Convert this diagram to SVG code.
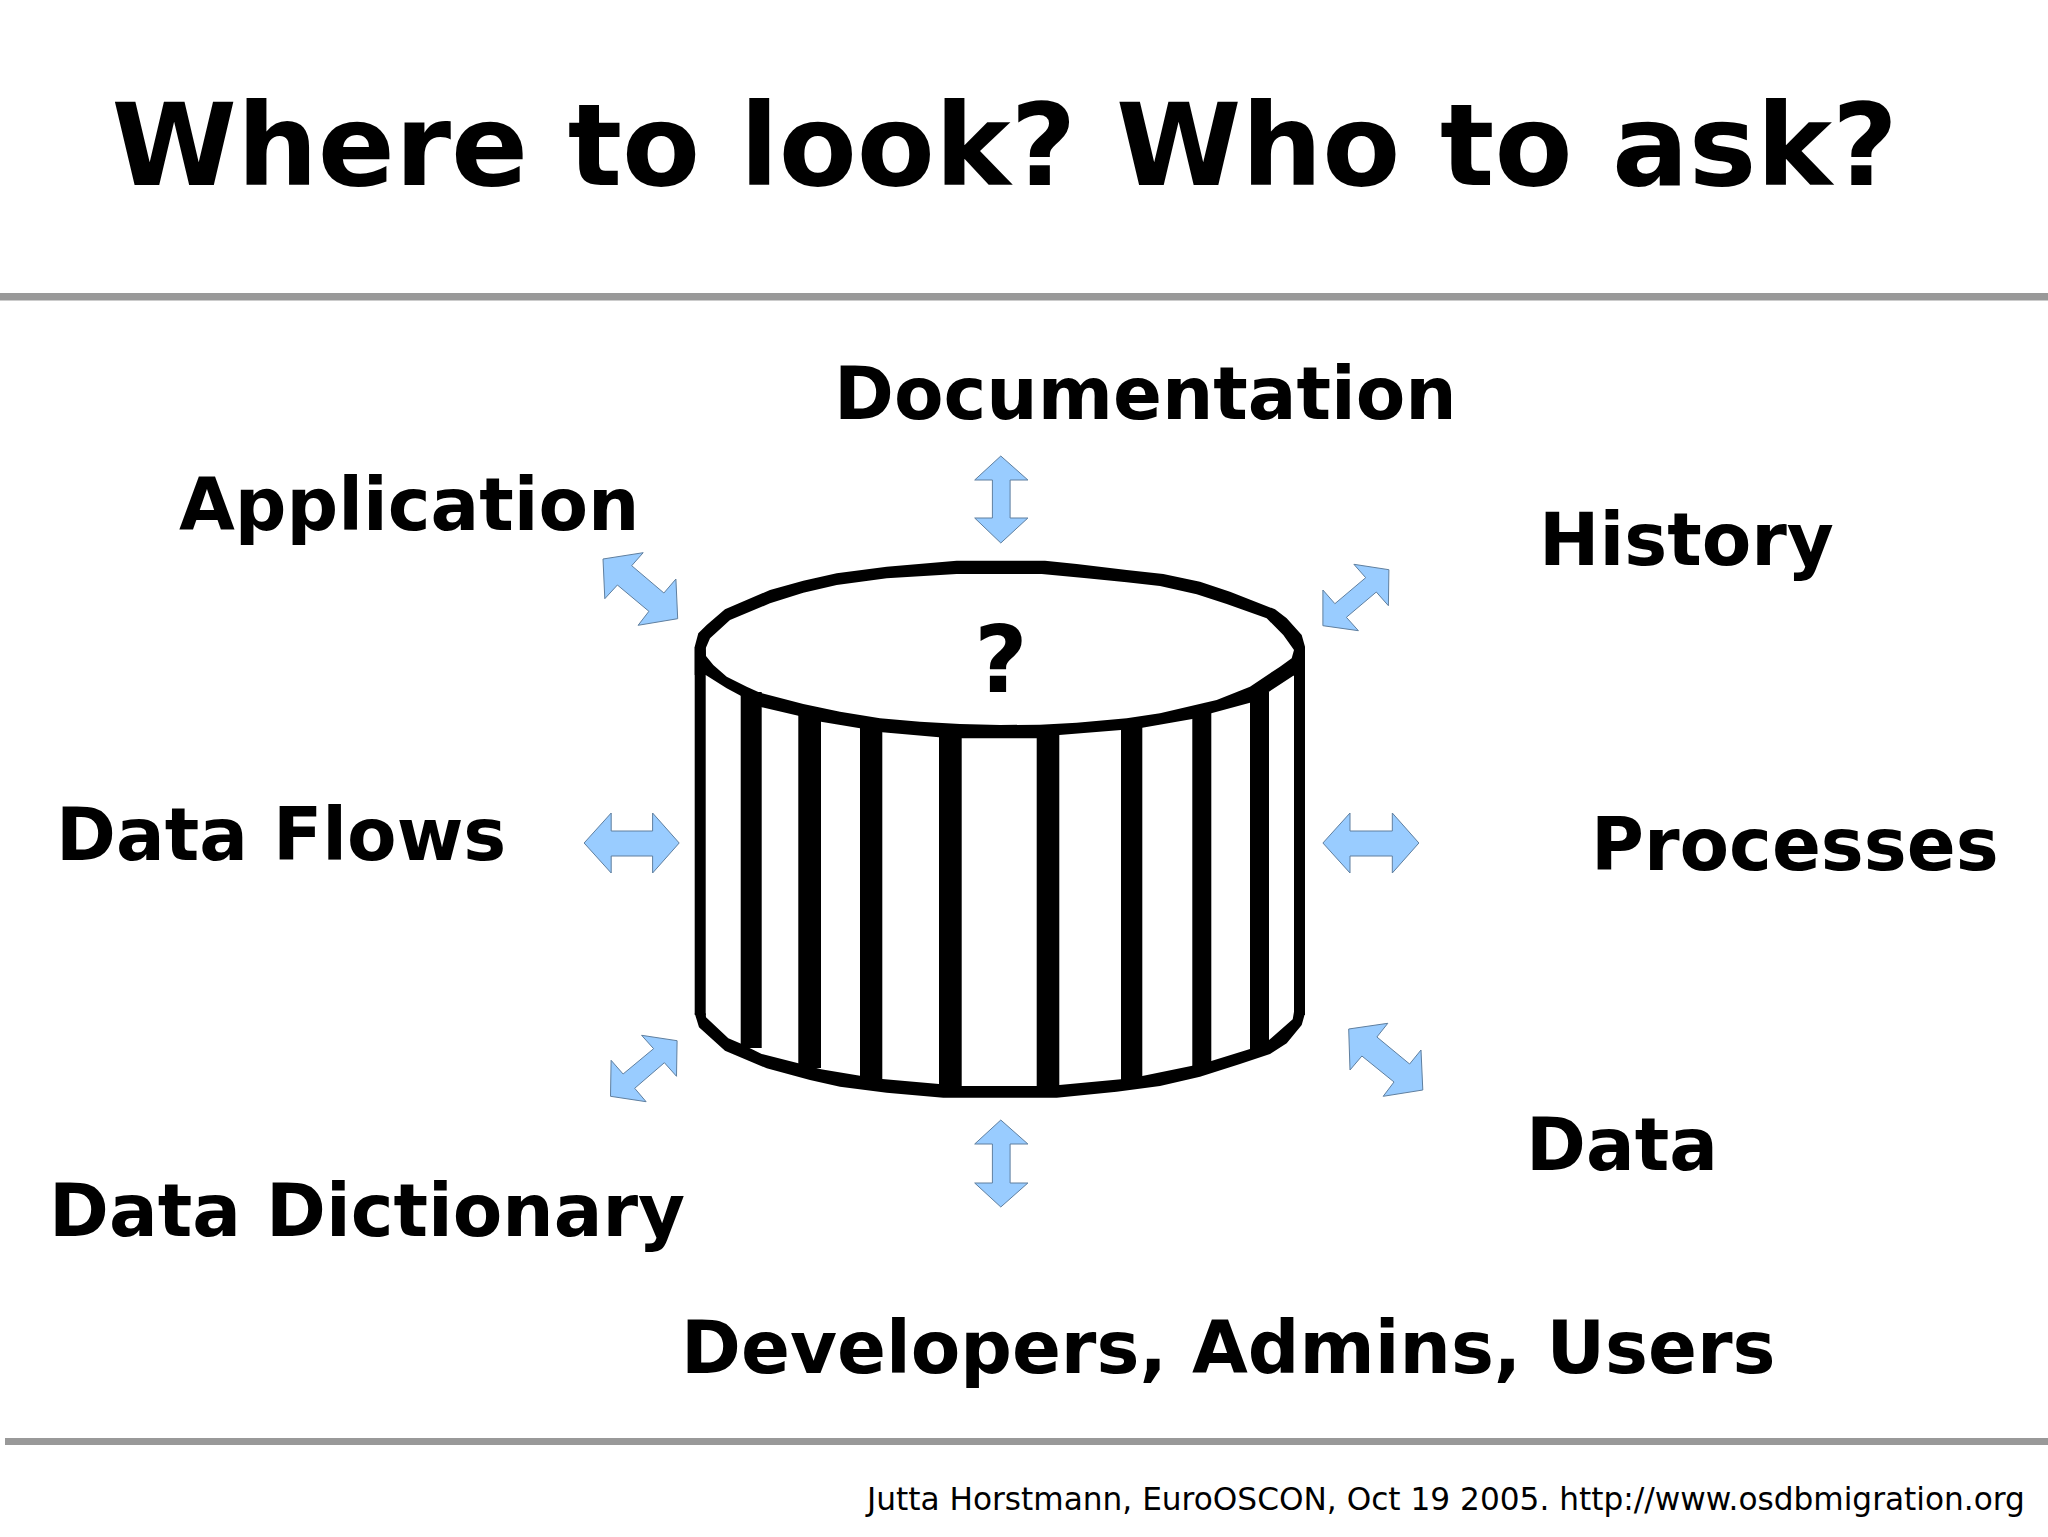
<svg xmlns="http://www.w3.org/2000/svg" width="2048" height="1537" viewBox="0 0 2048 1537">
<style>
text{font-family:"DejaVu Sans",sans-serif;font-weight:700;fill:#000}
.l{font-size:72.2px}
.a{fill:#99ccff;stroke:#5f7f9f;stroke-width:1}
.k{fill:#000}
</style>
<rect width="2048" height="1537" fill="#fff"/>
<rect id="rule-top" x="0" y="293" width="2048" height="7.500" fill="#999"/>
<rect id="rule-bottom" x="5" y="1438" width="2043" height="7" fill="#999"/>
<text id="title" x="111.500" y="185" font-size="113.700">Where to look? Who to ask?</text>
<g id="cylinder">
<g class="k">
<rect x="694.700" y="647" width="11" height="368"/><rect x="1294" y="647" width="11" height="368"/>
<rect x="740.700" y="692" width="21" height="356"/><rect x="798.300" y="708" width="22.700" height="360"/><rect x="860" y="722" width="22.300" height="358"/><rect x="939" y="730" width="22.700" height="360"/><rect x="1036.700" y="730" width="22.600" height="360"/><rect x="1121" y="722" width="21.300" height="362"/><rect x="1192.300" y="712" width="19" height="358"/><rect x="1250" y="692" width="19" height="362"/>
</g>
<path class="k" fill-rule="evenodd" d="M694.700 646.700L698.300 633.300L706.700 625L725 609.300L770 590L803.300 580.700L836.700 573.300L886.700 566.700L956.700 560.700H1045L1076.700 564L1126.700 570L1163.300 574L1200 581.700L1230 591.700L1275 609.300L1286.700 618.300L1301.700 635L1305 646.700V675.700H1293.300L1269 691.700L1250 702.700L1211.300 713.300L1192.300 719L1142.300 727.700L1121 730L1059.300 735L1036.700 738.300H961.700L939 737.300L882.300 732.300L860 728.300L821 721.700L798.300 715.700L761.700 707.300L740.700 695.700L726.700 688.300L705.700 675H694.700ZM705.700 648.300L710 638.300L730 620L770 603.300L803.300 592.700L836.700 585L886.700 578.300L956.700 574H1041.700L1086.700 578.300L1126.700 582.300L1160 586L1196.700 594.300L1226.700 604L1266.700 618.300L1283.300 635L1294 650L1291.700 658.300L1280 666.700L1250 686.700L1216.700 700L1160 713.300L1126.700 718.300L1076.700 722.700L1040 724.700L1000 725L960 724L920 721.700L880 718.300L840 711.700L803.300 704L760 692.700L746.700 686.700L726.700 676.700L713.300 665L706 656Z"/>
<path class="k" d="M694.700 1013.300L699 1027.300L725 1050.700L766.700 1068.300L810 1080L840 1086.700L886.700 1092.700L943.300 1097.700H1056.700L1116.700 1091.700L1160 1086L1200 1076.700L1240 1064L1270 1054L1286.700 1043.300L1301.700 1025L1305 1013.300L1294 1011.700L1292.700 1019.300L1269 1040L1250 1049L1211.300 1061L1192.300 1065.700L1142.300 1076L1121 1079.300L1059.300 1085L1036.700 1086H961.700L939 1084L882.300 1079L860 1075.700L821 1069.300L798.300 1063.300L761.700 1054L740 1043.300L728.300 1038.300L706 1017.300L705.700 1013.300Z"/>
<text id="q" x="1001" y="692" font-size="92" text-anchor="middle">?</text>
</g>
<g id="connectors">
<polygon class="a" points="1000.8,456 1027.900,480 1010.100,480 1010.100,518 1027.900,518 1000.800,543 974.700,518 992.400,518 992.400,480 974.700,480"/>
<polygon class="a" points="1000.8,1120 1027.900,1144 1010.100,1144 1010.100,1183 1027.900,1183 1000.800,1207 974.700,1183 992.400,1183 992.400,1144 974.700,1144"/>
<polygon class="a" points="584.1,843 611.2,813 611.2,831 652.6,831 652.6,813 679.2,843 652.6,873 652.6,856 611.2,856 611.2,873"/>
<polygon class="a" points="1322.9,843 1350,813 1350,831 1392.3,831 1392.3,813 1418.9,843 1392.3,873 1392.3,856 1350,856 1350,873"/>
<polygon class="a" points="603,559 643.2,552.7 631.7,565.7 663.9,593 675.9,579 677.7,618.7 638.1,625.3 648.9,611.3 617.4,585 604.8,598.7"/>
<polygon class="a" points="1353.9,564.3 1388.9,569.7 1388.4,605.7 1376.3,592 1346.4,617.3 1358.4,630.7 1322.9,625.7 1322.9,590 1334.9,603.7 1365.7,577.7"/>
<polygon class="a" points="641.6,1035.3 677.1,1040.7 676.5,1076.3 664.4,1062.7 634.7,1088.3 646.1,1101.7 610.5,1096.3 611.1,1060.3 623.1,1074 653.6,1048.7"/>
<polygon class="a" points="1348.7,1029 1387.8,1023.3 1376.9,1037 1409.6,1064 1421,1050 1422.8,1090 1383.2,1096.3 1394,1082 1361.9,1056 1350,1070"/>
</g>
<g id="documentation"><text class="l" x="834" y="419">Documentation</text></g>
<g id="application"><text class="l" x="179" y="530">Application</text></g>
<g id="history"><text class="l" x="1539" y="565">History</text></g>
<g id="data-flows"><text class="l" x="56" y="860">Data Flows</text></g>
<g id="processes"><text class="l" x="1591" y="870">Processes</text></g>
<g id="data"><text class="l" x="1526" y="1170">Data</text></g>
<g id="data-dictionary"><text class="l" x="49" y="1236">Data Dictionary</text></g>
<g id="people"><text class="l" x="681" y="1373">Developers, Admins, Users</text></g>
<text id="footer" x="867" y="1510" font-size="31.200" style="font-weight:400">Jutta Horstmann, EuroOSCON, Oct 19 2005. http://www.osdbmigration.org</text>
</svg>
